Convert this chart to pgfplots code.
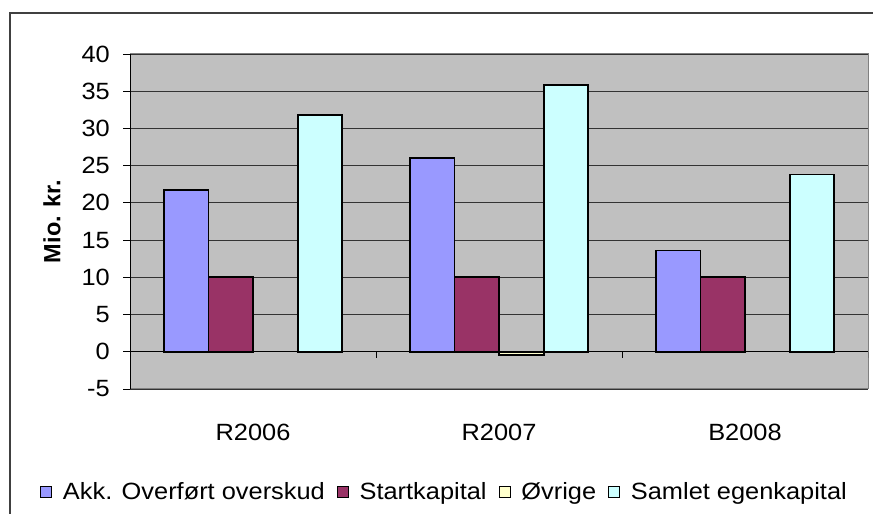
\documentclass[border=0pt]{standalone}
\usepackage{fontspec}
\setmainfont{Liberation Sans}[FakeStretch=1.08]
\newfontfamily\plainfont{Liberation Sans}
\usepackage{pgfplots}
\pgfplotsset{compat=1.18}
\definecolor{cAkk}{HTML}{9999FF}
\definecolor{cStart}{HTML}{993366}
\definecolor{cOvr}{HTML}{FFFFCC}
\definecolor{cSam}{HTML}{CCFFFF}
\definecolor{plotbg}{HTML}{C0C0C0}
\newcommand{\chartfont}{\fontsize{23.5bp}{27bp}\selectfont}
\begin{document}
\begin{tikzpicture}[x=1bp,y=1bp, font=\chartfont]
\useasboundingbox (0,0) rectangle (873,514);
\clip (0,0) rectangle (873,514);
\draw[black!75, line width=1.5bp] (10,-20) -- (10,501) -- (900,501);
\begin{axis}[
  at={(130bp,125bp)}, anchor=south west,
  scale only axis, width=738bp, height=335bp,
  xmin=-0.5, xmax=2.5, ymin=-5, ymax=40,
  ytick={-5,0,...,40},
  xtick={0,1,2}, xticklabels={R2006,R2007,B2008},
  axis x line*=bottom, axis y line*=left,
  x axis line style={draw=none},
  y axis line style={black, line width=1bp},
  xtick style={draw=none},
  ytick style={black, line width=0.8bp},
  tick align=outside, major tick length=7bp,
  axis background/.style={fill=plotbg, draw=black!50, line width=1bp},
  ymajorgrids, grid style={black!80, line width=0.8bp},
  tick label style={font=\chartfont},
  yticklabel style={anchor=east, inner sep=0pt, xshift=-13bp},
  xticklabel style={anchor=center, yshift=-36bp},
  ylabel={\plainfont\bfseries Mio. kr.},
  every axis y label/.style={at={(rel axis cs:-0.1057,0.5)}, rotate=90, anchor=center, font=\chartfont},
  /pgf/number format/assume math mode=true,
  ybar=0pt, bar width=0.1813,
  legend style={at={(rel axis cs:-0.122,-0.307)}, anchor=west, draw=none, fill=none,
    legend columns=4,
    /tikz/every odd column/.append style={column sep=8bp},
    /tikz/every even column/.append style={column sep=9bp},
    nodes={inner sep=3bp},
    legend cell align=left, inner sep=0pt, font=\chartfont},
  legend image code/.code={\draw[#1, draw=black, line width=0.8bp] (0bp,-6bp) rectangle (11bp,5bp);},
]
\draw[black, line width=1bp] (axis cs:-0.5,0) -- (axis cs:2.5,0);
\addplot[fill=cAkk, draw=black, line width=1.8bp] coordinates {(0,21.7) (1,26.0) (2,13.6)};
\addplot[fill=cStart, draw=black, line width=1.8bp] coordinates {(0,10) (1,10) (2,10)};
\addplot[fill=cOvr, draw=black, line width=1.8bp] coordinates {(1,-0.4)};
\addplot[fill=cSam, draw=black, line width=1.8bp] coordinates {(0,31.8) (1,35.8) (2,23.8)};
\legend{Akk. Overført overskud, Startkapital, Øvrige, Samlet egenkapital}
\draw[black, line width=0.8bp] (axis cs:0.5,0) -- ([yshift=-6bp]axis cs:0.5,0);
\draw[black, line width=0.8bp] (axis cs:1.5,0) -- ([yshift=-6bp]axis cs:1.5,0);
\draw[black, line width=0.8bp] (axis cs:2.5,0) -- ([yshift=-6bp]axis cs:2.5,0);
\end{axis}
\end{tikzpicture}
\end{document}
